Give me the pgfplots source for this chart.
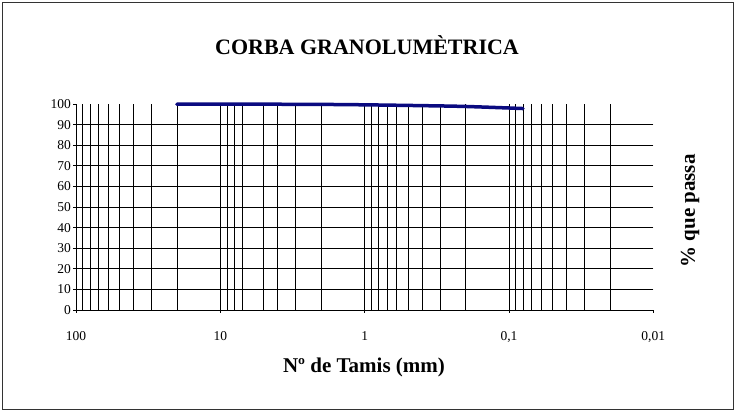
\documentclass[border=0pt]{standalone}
\usepackage{fontspec}
\setmainfont{Liberation Serif}
\usepackage{pgfplots}
\pgfplotsset{compat=1.18}
\definecolor{navy}{RGB}{10,10,128}
\begin{document}
\begin{tikzpicture}
\path (0bp,0bp) rectangle (736bp,412bp);
\draw[line width=1bp, black!80] (2.5bp,2.5bp) rectangle (733.5bp,409.5bp);
\begin{axis}[
  at={(76bp,102bp)}, anchor=south west,
  scale only axis, width=577.3bp, height=206bp,
  xmode=log, x dir=reverse,
  xmin=0.01, xmax=100, ymin=0, ymax=100,
  axis x line=bottom, axis y line=left,
  axis line style={-, line width=0.9bp, black},
  xtick={100,10,1,0.1}, xticklabels={100,10,1,{0{,}1}},
  extra x ticks={0.01}, extra x tick labels={{0{,}01}},
  extra x tick style={grid=none},
  minor xtick={90,80,70,60,50,40,30,20,9,8,7,5,4,3,2,0.9,0.8,0.7,0.6,0.5,0.4,0.3,0.2,0.09,0.08,0.07,0.06,0.05,0.04,0.03,0.02},
  ytick={0,10,...,90},
  extra y ticks={100}, extra y tick style={grid=none},
  xmajorgrids, xminorgrids, ymajorgrids,
  major grid style={line width=0.7bp, black},
  minor grid style={line width=0.7bp, black},
  tick align=outside, major tick length=3bp, minor tick length=0pt,
  tick style={line width=0.8bp, black},
  /pgf/number format/assume math mode=true,
  tick label style={font=\fontsize{13.5bp}{15bp}\selectfont},
  xticklabel style={yshift=-15bp},
  yticklabel style={xshift=1.5bp},
  clip=false,
]
\addplot[navy, line width=3.5bp, line cap=round, smooth] coordinates {
(20,99.9) (12.5,99.9) (10,99.9) (5,99.9) (2,99.8) (1,99.6) (0.4,99.2) (0.2,98.8) (0.08,97.8)
};
\end{axis}
\node[font=\bfseries\fontsize{22bp}{26bp}\selectfont] at (367bp,367bp) {CORBA GRANOLUMÈTRICA};
\node[font=\bfseries\fontsize{21bp}{25bp}\selectfont] at (364bp,45bp) {Nº de Tamis (mm)};
\node[font=\bfseries\fontsize{21bp}{25bp}\selectfont, rotate=90] at (690bp,201bp) {\% que passa};
\end{tikzpicture}
\end{document}
